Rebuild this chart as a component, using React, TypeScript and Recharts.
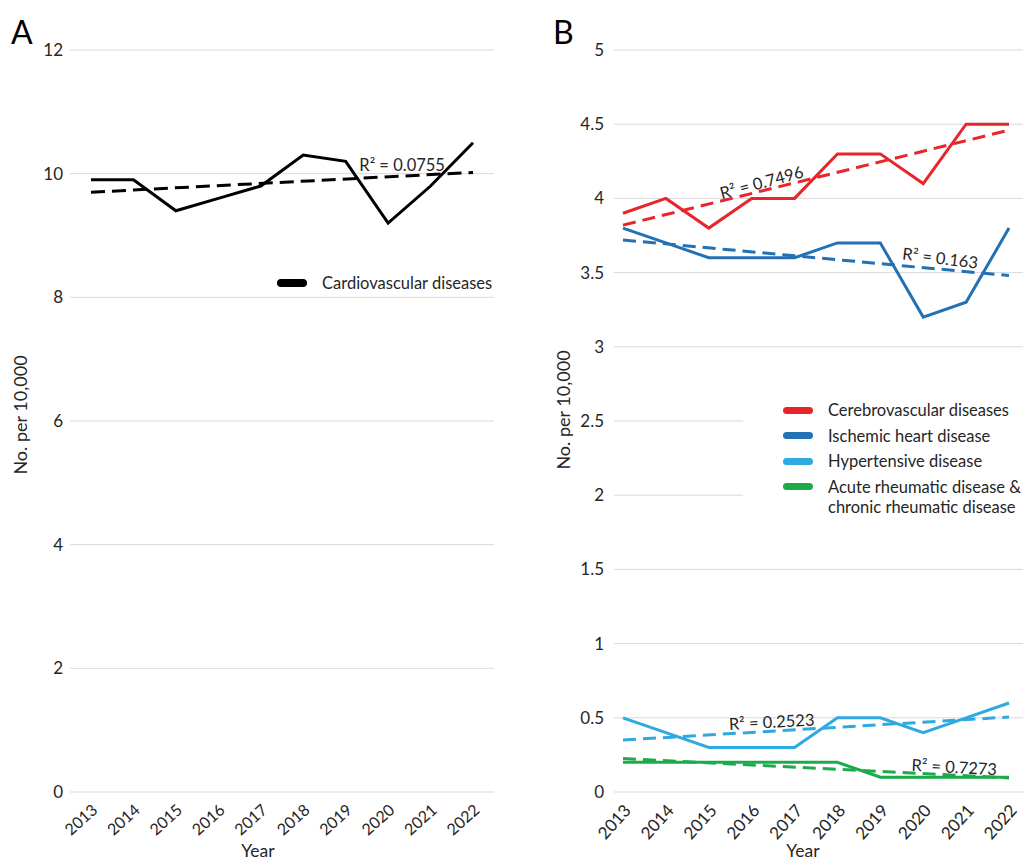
import React from "react";
import { CartesianGrid, Label, Legend, Line, LineChart, ReferenceDot, XAxis, YAxis } from "recharts";

const years = ["2013", "2014", "2015", "2016", "2017", "2018", "2019", "2020", "2021", "2022"];

// panel A
const cardiovascular = [9.9, 9.9, 9.4, 9.6, 9.8, 10.3, 10.2, 9.2, 9.8, 10.5];
const cardiovascularTrend = [9.7, null, null, null, null, null, null, null, null, 10.02];
const ticksA = [0, 2, 4, 6, 8, 10, 12];

// panel B
const cerebrovascular = [3.9, 4.0, 3.8, 4.0, 4.0, 4.3, 4.3, 4.1, 4.5, 4.5];
const cerebrovascularTrend = [3.82, null, null, null, null, null, null, null, null, 4.46];
const ischemic = [3.8, 3.7, 3.6, 3.6, 3.6, 3.7, 3.7, 3.2, 3.3, 3.8];
const ischemicTrend = [3.72, null, null, null, null, null, null, null, null, 3.48];
const hypertensive = [0.5, 0.4, 0.3, 0.3, 0.3, 0.5, 0.5, 0.4, 0.5, 0.6];
const hypertensiveTrend = [0.35, null, null, null, null, null, null, null, null, 0.505];
const rheumatic = [0.2, 0.2, 0.2, 0.2, 0.2, 0.2, 0.1, 0.1, 0.1, 0.1];
const rheumaticTrend = [0.225, null, null, null, null, null, null, null, null, 0.095];
const ticksB = [0, 0.5, 1, 1.5, 2, 2.5, 3, 3.5, 4, 4.5, 5];

const FONT = "Lato, 'Open Sans', sans-serif";
const TEXT = "#262626";
const GRID = "#d9d9d9";

const colors: Record<string, string> = {
  cvd: "#000000",
  cereb: "#e8252b",
  isch: "#2271b5",
  hyper: "#2fa9e1",
  rheum: "#1caa4b",
};

const seriesA = [{ key: "cvd", name: "Cardiovascular diseases" }];
const seriesB = [
  { key: "cereb", name: "Cerebrovascular diseases" },
  { key: "isch", name: "Ischemic heart disease" },
  { key: "hyper", name: "Hypertensive disease" },
  { key: "rheum", name: "Acute rheumatic disease & chronic rheumatic disease" },
];

const rowsA = years.map((year, i) => ({
  year,
  cvd: cardiovascular[i],
  cvdTrend: cardiovascularTrend[i],
}));

const rowsB = years.map((year, i) => ({
  year,
  cereb: cerebrovascular[i],
  cerebTrend: cerebrovascularTrend[i],
  isch: ischemic[i],
  ischTrend: ischemicTrend[i],
  hyper: hypertensive[i],
  hyperTrend: hypertensiveTrend[i],
  rheum: rheumatic[i],
  rheumTrend: rheumaticTrend[i],
}));

function R2Tag(props: any) {
  const { viewBox, text, shift = 0, rot = 0 } = props;
  const cx = viewBox.x + viewBox.width / 2 + shift;
  const cy = viewBox.y + viewBox.height / 2;
  return (
    <text
      x={cx}
      y={cy}
      textAnchor="middle"
      dominantBaseline="central"
      transform={`rotate(${rot} ${cx} ${cy})`}
      fontFamily={FONT}
      fontSize={16.5}
      fill={TEXT}
    >
      {text}
    </text>
  );
}

const yTitle = (x: number, y: number) => () => (
  <text
    x={x}
    y={y}
    textAnchor="middle"
    dominantBaseline="central"
    transform={`rotate(-90 ${x} ${y})`}
    fontFamily={FONT}
    fontSize={18}
    fill={TEXT}
  >
    No. per 10,000
  </text>
);

const xTitle = (x: number) => () => (
  <text x={x} y={857} textAnchor="middle" fontFamily={FONT} fontSize={17.5} fill={TEXT}>
    Year
  </text>
);

function LegendList(props: any) {
  const { payload = [], items, swatch = 6 } = props;
  const shown = items
    .map((it: any) => payload.find((p: any) => p.dataKey === it.key))
    .filter(Boolean);
  return (
    <div style={{ fontFamily: FONT, fontSize: 16.5, color: TEXT }}>
      {shown.map((entry: any) => (
        <div key={entry.value} style={{ display: "flex", alignItems: "flex-start", lineHeight: "20px", marginBottom: 5.5 }}>
          <span
            style={{
              display: "inline-block",
              width: 30,
              height: swatch,
              borderRadius: swatch / 2,
              background: entry.color,
              marginTop: 10 - swatch / 2,
              marginRight: 15,
              flex: "none",
            }}
          />
          <span style={{ width: 205 }}>{entry.value}</span>
        </div>
      ))}
    </div>
  );
}

const tickStyle = { fontFamily: FONT, fontSize: 17, fill: TEXT };

function PanelA() {
  return (
    <LineChart width={540} height={862} data={rowsA} margin={{ top: 50, right: 46, bottom: 10, left: 0 }}>
      <CartesianGrid vertical={false} stroke={GRID} />
      <XAxis
        dataKey="year"
        height={60}
        padding={{ left: 21, right: 21 }}
        axisLine={false}
        tickLine={false}
        interval={0}
        angle={-42}
        textAnchor="end"
        tickMargin={5}
        tick={{ ...tickStyle, fontSize: 16 }}
      >
        <Label content={xTitle(258)} />
      </XAxis>
      <YAxis
        width={70}
        domain={[0, 12]}
        ticks={ticksA}
        axisLine={false}
        tickLine={false}
        tickMargin={1}
        tick={tickStyle}
      >
        <Label content={yTitle(20, 415)} />
      </YAxis>
      <Legend
        layout="horizontal"
        verticalAlign="middle"
        align="center"
        wrapperStyle={{ left: 277, top: 273, width: 260 }}
        content={<LegendList items={seriesA} swatch={8} />}
      />
      {seriesA.map((s) => (
        <Line
          key={s.key}
          dataKey={s.key}
          name={s.name}
          stroke={colors[s.key]}
          strokeWidth={3}
          dot={false}
          activeDot={false}
          isAnimationActive={false}
        />
      ))}
      {seriesA.map((s) => (
        <Line
          key={s.key + "Trend"}
          dataKey={s.key + "Trend"}
          stroke={colors[s.key]}
          strokeWidth={3}
          strokeDasharray="14 7"
          connectNulls
          dot={false}
          activeDot={false}
          legendType="none"
          isAnimationActive={false}
        />
      ))}
      <ReferenceDot x="2020" y={10.137} r={0} stroke="none" label={<R2Tag text="R² = 0.0755" shift={14} />} />
    </LineChart>
  );
}

function PanelB() {
  return (
    <LineChart width={483} height={862} data={rowsB} margin={{ top: 50, right: 0, bottom: 10, left: 0 }}>
      <CartesianGrid vertical={false} stroke={GRID} />
      <XAxis
        dataKey="year"
        height={60}
        padding={{ left: 9, right: 14 }}
        axisLine={false}
        tickLine={false}
        interval={0}
        angle={-48}
        textAnchor="end"
        tickMargin={5}
        tick={tickStyle}
      >
        <Label content={xTitle(263)} />
      </XAxis>
      <YAxis
        width={74}
        domain={[0, 5]}
        ticks={ticksB}
        axisLine={false}
        tickLine={false}
        tickMargin={4}
        tick={tickStyle}
      >
        <Label content={yTitle(23, 410)} />
      </YAxis>
      <Legend
        layout="horizontal"
        verticalAlign="middle"
        align="center"
        wrapperStyle={{ left: 203, top: 398, width: 280, padding: "2px 0 4px 40px", background: "#fff", boxSizing: "border-box" }}
        content={<LegendList items={seriesB} swatch={7} />}
      />
      {seriesB.map((s) => (
        <Line
          key={s.key}
          dataKey={s.key}
          name={s.name}
          stroke={colors[s.key]}
          strokeWidth={3}
          dot={false}
          activeDot={false}
          isAnimationActive={false}
        />
      ))}
      {seriesB.map((s) => (
        <Line
          key={s.key + "Trend"}
          dataKey={s.key + "Trend"}
          stroke={colors[s.key]}
          strokeWidth={3}
          strokeDasharray="13 7"
          connectNulls
          dot={false}
          activeDot={false}
          legendType="none"
          isAnimationActive={false}
        />
      ))}
      <ReferenceDot x="2016" y={4.108} r={0} stroke="none" label={<R2Tag text="R² = 0.7496" shift={10} rot={-15} />} />
      <ReferenceDot x="2020" y={3.598} r={0} stroke="none" label={<R2Tag text="R² = 0.163" shift={17} rot={7} />} />
      <ReferenceDot x="2016" y={0.473} r={0} stroke="none" label={<R2Tag text="R² = 0.2523" shift={20} rot={-3} />} />
      <ReferenceDot x="2020" y={0.169} r={0} stroke="none" label={<R2Tag text="R² = 0.7273" shift={31} rot={3} />} />
    </LineChart>
  );
}

export default function App() {
  const letter: React.CSSProperties = {
    position: "absolute",
    top: 14,
    fontFamily: FONT,
    fontSize: 32,
    color: "#000",
    lineHeight: "36px",
  };
  return (
    <div style={{ position: "absolute", left: 0, top: 0, width: 1023, height: 862, background: "#fff", overflow: "hidden" }}>
      <div style={{ position: "absolute", left: 0, top: 0 }}>
        <PanelA />
      </div>
      <div style={{ position: "absolute", left: 540, top: 0 }}>
        <PanelB />
      </div>
      <div style={{ ...letter, left: 11 }}>A</div>
      <div style={{ ...letter, left: 553 }}>B</div>
    </div>
  );
}
